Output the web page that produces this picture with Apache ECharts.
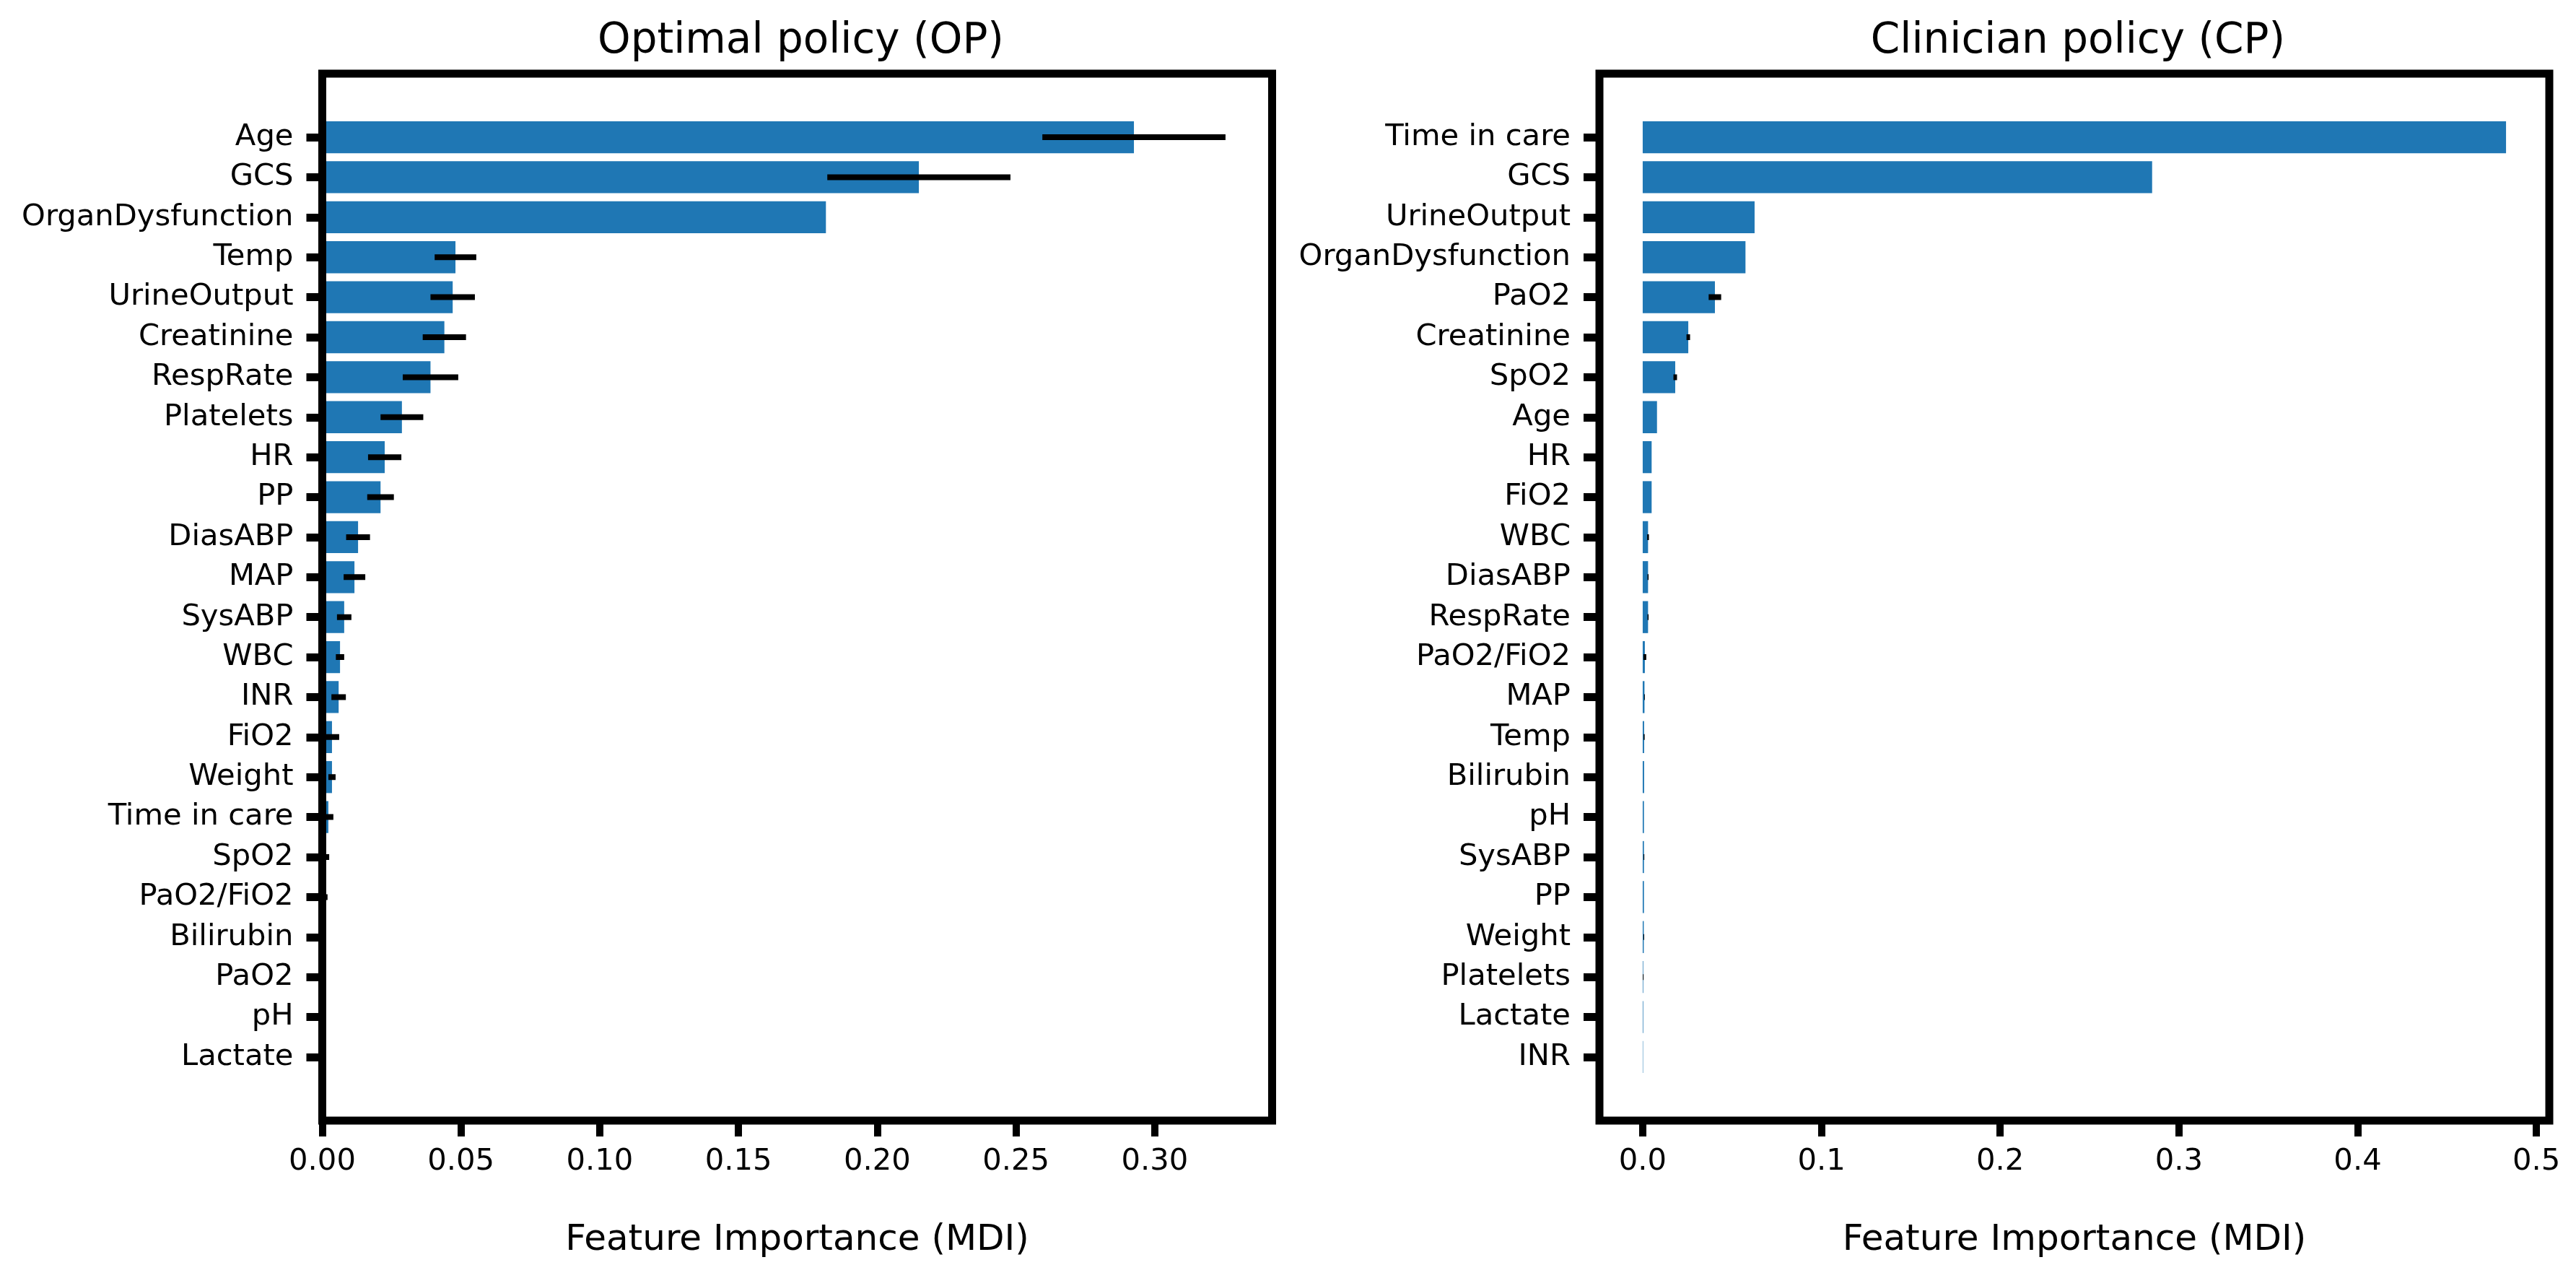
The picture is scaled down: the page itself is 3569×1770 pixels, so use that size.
<!DOCTYPE html>
<html>
<head>
<meta charset="utf-8">
<script src="https://cdn.jsdelivr.net/npm/echarts@6/dist/echarts.min.js"></script>
<style>
  html, body { margin: 0; padding: 0; background: #fff; }
  #chart { width: 3569px; height: 1770px; }
</style>
</head>
<body>
<div id="chart"></div>
<script>
// Optimal policy (OP)
const opFeatures = ['Age', 'GCS', 'OrganDysfunction', 'Temp', 'UrineOutput', 'Creatinine', 'RespRate',
  'Platelets', 'HR', 'PP', 'DiasABP', 'MAP', 'SysABP', 'WBC', 'INR', 'FiO2', 'Weight', 'Time in care',
  'SpO2', 'PaO2/FiO2', 'Bilirubin', 'PaO2', 'pH', 'Lactate'];
const opMean = [0.2925, 0.215, 0.1815, 0.048, 0.047, 0.044, 0.039, 0.0287, 0.0225, 0.021, 0.0129, 0.0116,
  0.0079, 0.0064, 0.0059, 0.0035, 0.0035, 0.0022, 0.0008, 0.0005, 0.0001, 0.0001, 0.0001, 0.0001];
const opStd = [0.033, 0.033, 0, 0.0075, 0.008, 0.0078, 0.010, 0.0077, 0.006, 0.0048, 0.0043, 0.0039,
  0.0026, 0.0015, 0.0026, 0.0026, 0.0013, 0.0018, 0.0017, 0.0014, 0, 0, 0, 0];
const opTicks = [0, 0.05, 0.10, 0.15, 0.20, 0.25, 0.30];

// Clinician policy (CP)
const cpFeatures = ['Time in care', 'GCS', 'UrineOutput', 'OrganDysfunction', 'PaO2', 'Creatinine', 'SpO2',
  'Age', 'HR', 'FiO2', 'WBC', 'DiasABP', 'RespRate', 'PaO2/FiO2', 'MAP', 'Temp', 'Bilirubin', 'pH',
  'SysABP', 'PP', 'Weight', 'Platelets', 'Lactate', 'INR'];
const cpMean = [0.483, 0.285, 0.0626, 0.0575, 0.0404, 0.0255, 0.0182, 0.008, 0.005, 0.005, 0.003, 0.003,
  0.003, 0.0012, 0.001, 0.0008, 0.0008, 0.0007, 0.0007, 0.0007, 0.0006, 0.0003, 0.0003, 0.0002];
const cpStd = [0, 0, 0, 0, 0.0035, 0.001, 0.001, 0, 0, 0, 0.0005, 0.0003, 0.0003, 0.0008, 0.0002, 0.0003,
  0, 0, 0.0002, 0, 0.0002, 0.0002, 0, 0];
const cpTicks = [0, 0.1, 0.2, 0.3, 0.4, 0.5];

const FONT = 'DejaVu Sans';
const BLUE = '#1f77b4';

// panel boxes (spine centres) and x limits
const panels = [
  { title: 'Optimal policy (OP)', left: 446.5, right: 1762.5, xmin: 0, xmax: 0.3423,
    features: opFeatures, mean: opMean, std: opStd, ticks: opTicks, digits: 2 },
  { title: 'Clinician policy (CP)', left: 2216, right: 3532, xmin: -0.0242, xmax: 0.5072,
    features: cpFeatures, mean: cpMean, std: cpStd, ticks: cpTicks, digits: 1 }
];
const boxTop = 102, boxBottom = 1552;
// matplotlib barh limits: -0.4 .. n-0.6 plus 5% margin
const nCat = 24;
const span = (nCat - 1) + 0.8;
const lim = span * 1.1;
const unit = (boxBottom - boxTop) / lim;
const innerTop = boxTop + (0.4 + span * 0.05 - 0.5) * unit;
const innerHeight = nCat * unit;

const chart = echarts.init(document.getElementById('chart'), null, { renderer: 'canvas' });

const option = {
  animation: false,
  backgroundColor: '#fff',
  textStyle: { fontFamily: FONT },
  title: [],
  grid: [],
  xAxis: [],
  yAxis: [],
  series: []
};

panels.forEach((p, k) => {
  const w = p.right - p.left;
  const outer = k * 2, inner = k * 2 + 1;

  option.title.push({
    text: p.title,
    left: p.left + w / 2,
    textAlign: 'center',
    top: 24,
    textStyle: { fontFamily: FONT, fontSize: 58, fontWeight: 'normal', color: '#000' }
  });

  // frame + x axis
  option.grid.push({
    left: p.left, top: boxTop, width: w, height: boxBottom - boxTop,
    show: true, borderColor: '#000', borderWidth: 11, backgroundColor: 'transparent', z: 10
  });
  // bars area (category band)
  option.grid.push({
    left: p.left, top: innerTop, width: w, height: innerHeight
  });

  option.xAxis.push({
    type: 'value', gridIndex: outer, min: p.xmin, max: p.xmax,
    splitLine: { show: false },
    axisLine: { show: false },
    axisTick: { show: true, length: 22, lineStyle: { width: 10, color: '#000' }, customValues: p.ticks },
    axisLabel: {
      show: true, margin: 36, fontSize: 41.7, color: '#000', fontFamily: FONT,
      customValues: p.ticks,
      formatter: v => v.toFixed(p.digits)
    },
    name: 'Feature Importance (MDI)',
    nameLocation: 'middle',
    nameGap: 141,
    nameTextStyle: { fontSize: 50, color: '#000', fontFamily: FONT }
  });
  option.yAxis.push({ type: 'value', gridIndex: outer, show: false });

  option.xAxis.push({ type: 'value', gridIndex: inner, min: p.xmin, max: p.xmax, show: false });
  option.yAxis.push({
    type: 'category', gridIndex: inner, inverse: true, data: p.features,
    axisLine: { show: false, onZero: false },
    axisTick: { show: true, alignWithLabel: true, length: 22, lineStyle: { width: 11, color: '#000' } },
    axisLabel: { margin: 40, fontSize: 41.7, color: '#000', fontFamily: FONT, interval: 0 },
    splitLine: { show: false }
  });

  option.series.push({
    type: 'bar', xAxisIndex: inner, yAxisIndex: inner,
    data: p.mean, barWidth: '80%',
    itemStyle: { color: BLUE },
    z: 2
  });

  option.series.push({
    type: 'custom', xAxisIndex: inner, yAxisIndex: inner,
    clip: true, z: 3,
    data: p.features.map((f, i) => [f, p.mean[i] - p.std[i], p.mean[i] + p.std[i]])
      .filter((d, i) => p.std[i] > 0),
    encode: { y: 0, x: [1, 2] },
    renderItem: function (params, api) {
      const idx = api.value(0);
      const a = api.coord([api.value(1), idx]);
      const b = api.coord([api.value(2), idx]);
      return {
        type: 'line',
        shape: { x1: a[0], y1: a[1], x2: b[0], y2: b[1] },
        style: { stroke: '#000', lineWidth: 8 }
      };
    }
  });
});

chart.setOption(option);
</script>
</body>
</html>
